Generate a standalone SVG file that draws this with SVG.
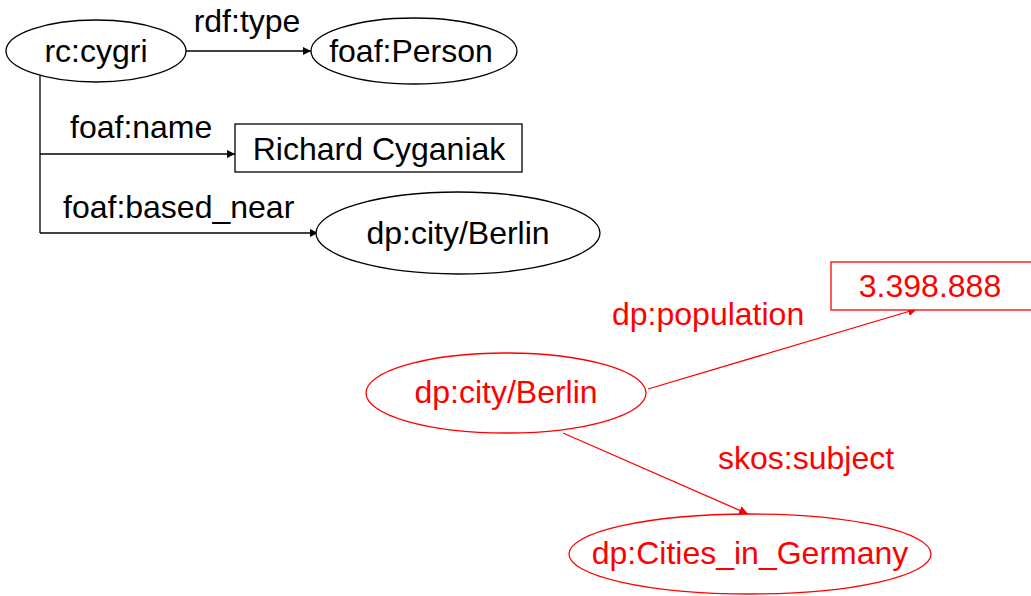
<svg xmlns="http://www.w3.org/2000/svg" width="1031" height="596" viewBox="0 0 1031 596">
<style>
text{font-family:"Liberation Sans",Arial,sans-serif;font-size:32px}
.k{fill:#000}
.r{fill:#f00}
.nk{fill:#fff;stroke:#000;stroke-width:1.3}
.nr{fill:#fff;stroke:#f00;stroke-width:1.3}
.ek{stroke:#000;stroke-width:1.3;fill:none}
.er{stroke:#f00;stroke-width:1.3;fill:none}
.m{text-anchor:middle}
</style>
<defs>
<marker id="ak" viewBox="0 0 10 10" refX="10" refY="5" markerWidth="8" markerHeight="8" markerUnits="userSpaceOnUse" orient="auto"><path d="M0,0L10,5L0,10z" fill="#000"/></marker>
<marker id="ar" viewBox="0 0 10 10" refX="10" refY="5" markerWidth="9" markerHeight="9" markerUnits="userSpaceOnUse" orient="auto"><path d="M0,0L10,5L0,10z" fill="#f00"/></marker>
</defs>
<rect width="1031" height="596" fill="#fff"/>
<g id="connectors">
<path class="ek" d="M186,51H311" marker-end="url(#ak)"/>
<path class="ek" d="M40,75V233"/>
<path class="ek" d="M40,154H235" marker-end="url(#ak)"/>
<path class="ek" d="M40,233H318" marker-end="url(#ak)"/>
<path class="er" d="M648,389L917,309" marker-end="url(#ar)"/>
<path class="er" d="M563,433L748,514" marker-end="url(#ar)"/>
<text class="k m" x="247" y="32">rdf:type</text>
<text class="k" x="70" y="138">foaf:name</text>
<text class="k" x="63" y="218">foaf:based_near</text>
<text class="r" x="612" y="325">dp:population</text>
<text class="r" x="718" y="469">skos:subject</text>
</g>
<g id="n-cygri"><ellipse class="nk" cx="96" cy="51" rx="90" ry="31"/><text class="k m" x="96" y="62">rc:cygri</text></g>
<g id="n-person"><ellipse class="nk" cx="414" cy="51" rx="103" ry="33"/><text class="k m" x="411" y="62">foaf:Person</text></g>
<g id="n-name"><rect class="nk" x="235" y="124" width="287" height="48"/><text class="k m" x="379" y="160">Richard Cyganiak</text></g>
<g id="n-berlin"><ellipse class="nk" cx="458" cy="233" rx="142" ry="41"/><text class="k m" x="458" y="244">dp:city/Berlin</text></g>
<g id="n-pop"><rect class="nr" x="831" y="262" width="205" height="48"/><text class="r m" x="930" y="297">3.398.888</text></g>
<g id="n-berlin2"><ellipse class="nr" cx="506" cy="393" rx="140" ry="40"/><text class="r m" x="506" y="403">dp:city/Berlin</text></g>
<g id="n-cities"><ellipse class="nr" cx="750" cy="554" rx="181" ry="40"/><text class="r m" x="750" y="564">dp:Cities_in_Germany</text></g>
</svg>
